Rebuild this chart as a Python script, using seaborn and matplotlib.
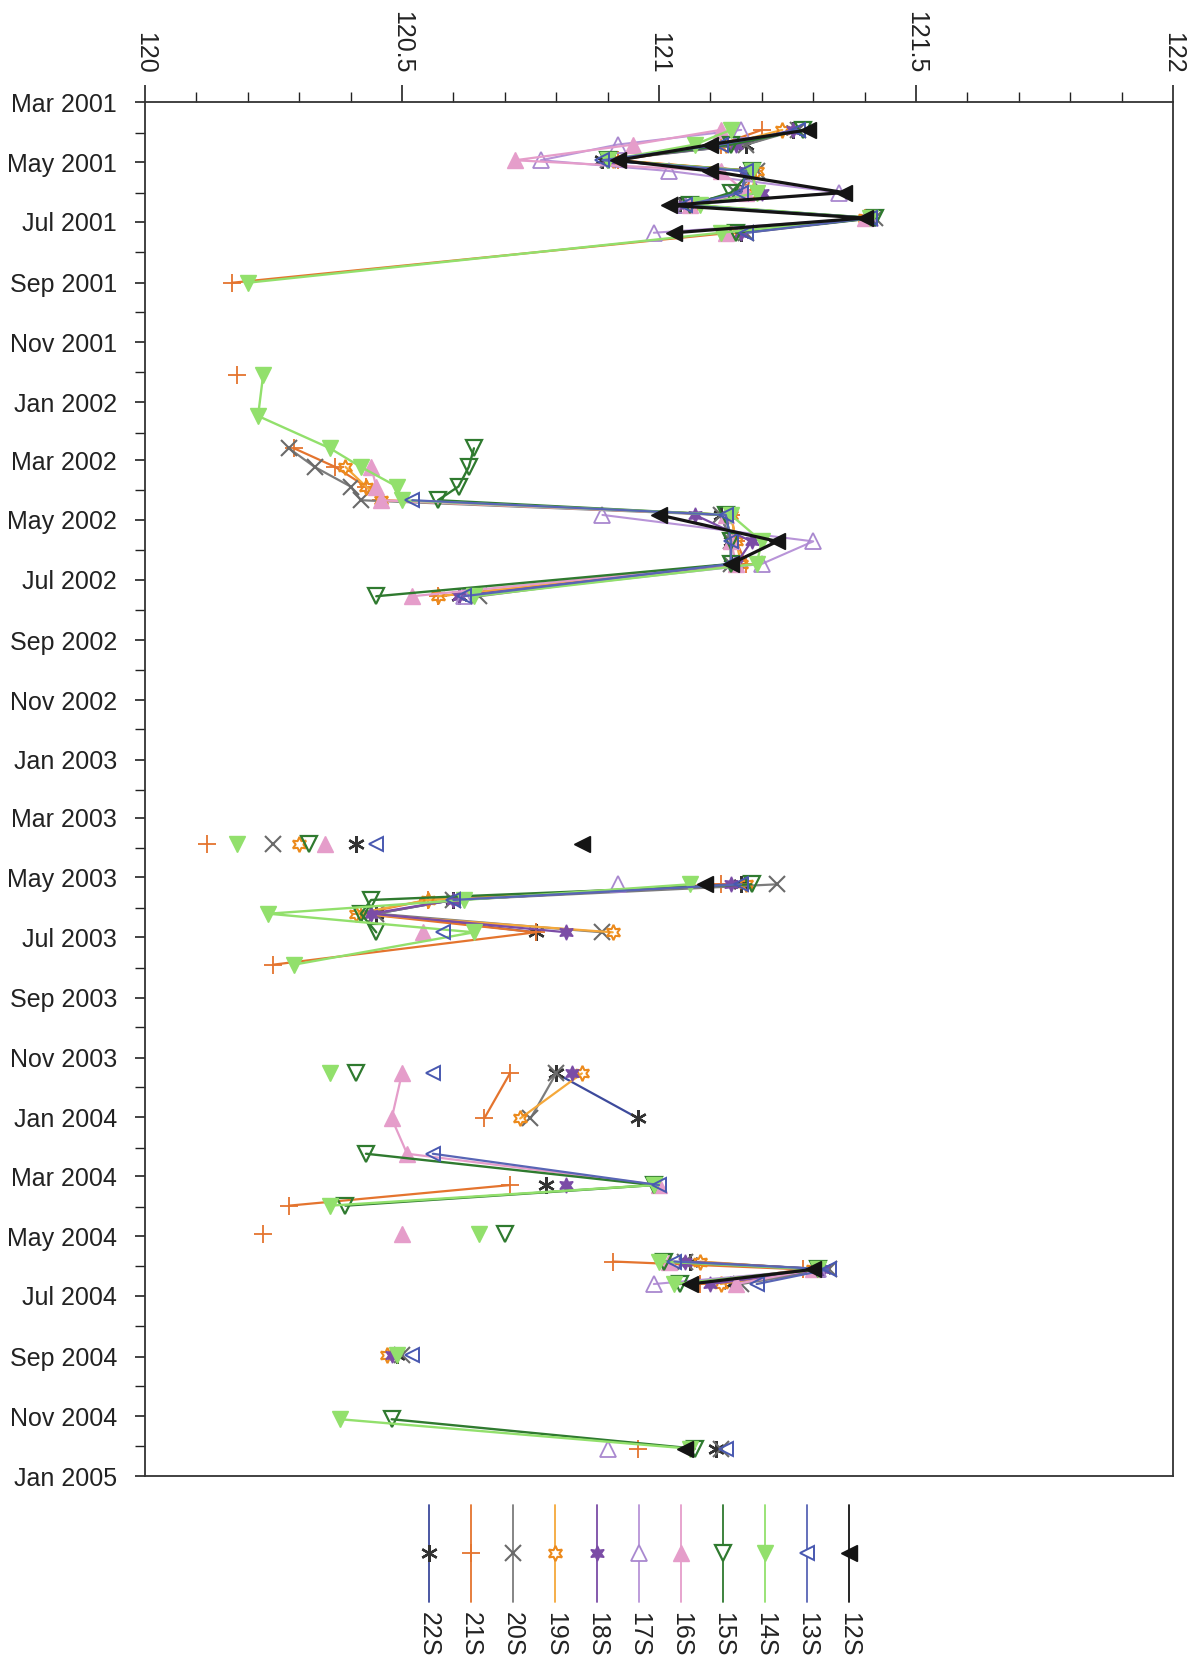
import numpy as np
import pandas as pd
import matplotlib
matplotlib.use("Agg")
import matplotlib.pyplot as plt
import matplotlib.dates as mdates
from matplotlib.ticker import MultipleLocator, FixedLocator
import seaborn as sns

n = np.nan

# observation dates (gap rows are dates with no readings -> line breaks)
dates = [
    "2001-03-29", "2001-04-13", "2001-04-29", "2001-05-10", "2001-06-01",
    "2001-06-14", "2001-06-27", "2001-07-12", "2001-09-01", "2001-10-15",
    "2001-12-04", "2002-01-15", "2002-02-17", "2002-03-08", "2002-03-28",
    "2002-04-11", "2002-04-26", "2002-05-23", "2002-06-15", "2002-07-18",
    "2002-10-15",
    "2003-03-28", "2003-04-18", "2003-05-08", "2003-05-24", "2003-06-07",
    "2003-06-26", "2003-07-29", "2003-09-30",
    "2003-11-17", "2004-01-02", "2004-02-07", "2004-03-10", "2004-03-31",
    "2004-04-15", "2004-04-29", "2004-05-13", "2004-05-27", "2004-06-04",
    "2004-06-19", "2004-07-25", "2004-08-30", "2004-10-01", "2004-11-04",
    "2004-12-04",
]

s12 = [121.29, 121.10, 120.92, 121.10, 121.36, 121.02, 121.40, 121.03, n, n,
       n, n, n, n, n, n, 121.00, 121.23, 121.14, n, n,
       120.85, n, 121.09, n, n, n, n, n,
       n, n, n, n, n, n, n, n, n, 121.30, 121.06, n, n, n, n, 121.05]
s13 = [121.27, 121.12, 120.89, 121.17, 121.16, 121.05, 121.41, 121.17, n, n,
       n, n, n, n, n, 120.52, 121.13, 121.14, 121.14, 120.62, n,
       120.45, n, 121.16, 120.60, n, 120.58, n, n,
       120.56, n, 120.56, 121.00, n, n, n, n, 121.03, 121.33, 121.19, n, 120.52, n, n, 121.13]
s14 = [121.14, 121.07, 120.90, 121.18, 121.19, 121.08, 121.41, 121.12, 120.20, n,
       120.23, 120.22, 120.36, 120.42, 120.49, 120.50, 121.14, 121.20, 121.19, 120.64, n,
       120.18, n, 121.06, 120.62, 120.24, 120.64, 120.29, n,
       120.36, n, n, 120.99, 120.36, n, 120.65, n, 121.00, 121.31, 121.03, n, 120.49, n, 120.38, 121.06]
s15 = [121.28, 121.14, 120.90, 121.18, 121.14, 121.06, 121.42, 121.15, n, n,
       n, n, 120.64, 120.63, 120.61, 120.57, 121.13, 121.14, 121.14, 120.45, n,
       120.32, n, 121.18, 120.44, 120.42, 120.45, n, n,
       120.41, n, 120.43, 120.99, 120.39, n, 120.70, n, 121.01, 121.31, 121.04, n, n, n, 120.48, 121.07]
s16 = [121.12, 120.95, 120.72, 121.12, 121.17, 121.06, 121.40, 121.13, n, n,
       n, n, n, 120.44, 120.45, 120.46, 121.13, 121.14, 121.15, 120.52, n,
       120.35, n, n, n, n, 120.54, n, n,
       120.50, 120.48, 120.51, 121.00, n, n, 120.50, n, 121.02, 121.30, 121.15, n, n, n, n, n]
s17 = [121.16, 120.92, 120.77, 121.02, 121.35, 121.05, 121.41, 120.99, n, n,
       n, n, n, n, n, n, 120.89, 121.30, 121.20, 120.62, n,
       n, n, 120.92, n, n, n, n, n,
       n, n, n, n, n, n, n, n, n, 121.31, 120.99, n, n, n, n, 120.90]
s18 = [121.26, 121.15, 120.90, 121.17, 121.20, 121.05, 121.41, 121.16, n, n,
       n, n, n, n, n, n, 121.07, 121.18, 121.15, 120.61, n,
       n, n, 121.14, 120.60, 120.44, 120.82, n, n,
       120.83, n, n, 120.82, n, n, n, n, 121.05, 121.32, 121.10, n, 120.48, n, n, n]
s19 = [121.24, 121.13, 120.91, 121.19, 121.18, 121.07, 121.40, 121.14, n, n,
       n, n, n, 120.39, 120.43, 120.46, 121.14, 121.15, 121.16, 120.57, n,
       120.30, n, 121.17, 120.55, 120.41, 120.91, n, n,
       120.85, 120.73, n, n, n, n, n, n, 121.08, 121.30, 121.12, n, 120.47, n, n, n]
s20 = [121.27, 121.17, 120.90, 121.19, 121.15, 121.05, 121.42, 121.17, n, n,
       n, n, 120.28, 120.33, 120.40, 120.42, 121.12, 121.14, 121.14, 120.65, n,
       120.25, n, 121.23, 120.60, 120.45, 120.89, n, n,
       120.80, 120.75, n, n, n, n, n, n, 121.05, 121.33, 121.16, n, 120.50, n, n, 121.12]
s21 = [121.20, 121.12, 120.92, 121.18, 121.17, 121.07, 121.40, 121.14, 120.17, n,
       120.18, n, 120.29, 120.37, 120.43, 120.46, 121.14, 121.15, 121.17, 120.57, n,
       120.12, n, 121.12, 120.55, 120.42, 120.76, 120.25, n,
       120.71, 120.66, n, 120.71, 120.28, n, 120.23, n, 120.91, 121.28, 121.08, n, n, n, n, 120.96]
s22 = [121.26, 121.17, 120.89, 121.17, 121.16, 121.04, 121.41, 121.16, n, n,
       n, n, n, n, n, n, 121.12, 121.14, 121.14, 120.61, n,
       120.41, n, 121.16, 120.60, 120.45, 120.76, n, n,
       120.80, 120.96, n, 120.78, n, n, n, n, 121.06, 121.32, 121.14, n, 120.49, n, n, 121.11]

series_names = ["22S", "21S", "20S", "19S", "18S", "17S", "16S", "15S", "14S", "13S", "12S"]
series_values = {"12S": s12, "13S": s13, "14S": s14, "15S": s15, "16S": s16, "17S": s17,
                 "18S": s18, "19S": s19, "20S": s20, "21S": s21, "22S": s22}

x_ticks = [120, 120.5, 121, 121.5, 122]
x_labels = ["120", "120.5", "121", "121.5", "122"]

# style: line colour, marker, face, edge, size, edge width, line width
styles = {
    "12S": ("#141414", "<", "#141414", "#141414", 11, 1.0, 2.3),
    "13S": ("#5865b5", "<", "none", "#4858b0", 10, 1.4, 1.6),
    "14S": ("#92e06c", "v", "#92e06c", "#92e06c", 11, 1.0, 1.7),
    "15S": ("#2f7a2f", "v", "none", "#2f7a2f", 11, 1.6, 1.7),
    "16S": ("#e59dca", "^", "#e59dca", "#e59dca", 11, 1.0, 1.6),
    "17S": ("#b894d8", "^", "none", "#a988cf", 11, 1.3, 1.5),
    "18S": ("#7b4ca6", (6, 1, 0), "#7b4ca6", "#7b4ca6", 11, 1.0, 1.6),
    "19S": ("#f5a83a", (6, 1, 0), "none", "#ec8a1c", 11, 1.5, 1.6),
    "20S": ("#7c7c7c", "x", "#6a6a6a", "#6a6a6a", 11, 1.5, 1.6),
    "21S": ("#e4742e", "+", "#e4742e", "#e4742e", 13, 1.3, 1.6),
    "22S": ("#3d4a9c", (6, 2, 0), "#333333", "#333333", 12, 1.7, 1.6),
}

sns.set_theme(style="ticks")
plt.rcParams["font.family"] = ["Liberation Sans", "DejaVu Sans"]

fig = plt.figure(figsize=(12, 16.63), dpi=100)
ax = fig.add_axes([0.1208, 0.1124, 0.8567, 0.8260])

dt = pd.to_datetime(dates)
for name in series_names:
    lc, mk, mfc, mec, ms, mew, lw = styles[name]
    vals = np.array(series_values[name], dtype=float)
    seg = np.cumsum(np.isnan(vals))
    df = pd.DataFrame({"date": dt, "val": vals, "seg": seg}).dropna()
    for _, g in df.groupby("seg"):
        sns.lineplot(data=g, x="val", y="date", sort=False, estimator=None,
                     orient="y", ax=ax, legend=False, color=lc, linewidth=lw,
                     marker=mk, markersize=ms, markerfacecolor=mfc,
                     markeredgecolor=mec, markeredgewidth=mew)

ax.set_xlim(120, 122)
ax.set_ylim(pd.Timestamp("2005-01-01"), pd.Timestamp("2001-03-01"))
ax.set_xlabel("")
ax.set_ylabel("")

ax.xaxis.tick_top()
ax.xaxis.set_major_locator(FixedLocator(x_ticks))
ax.set_xticklabels(x_labels, rotation=-90, va="bottom", ha="center")
ax.xaxis.set_minor_locator(MultipleLocator(0.1))
ax.tick_params(axis="x", which="major", direction="out", length=12, width=1.2,
               pad=9, labelsize=18, colors="#222222", top=True, bottom=False,
               labeltop=True, labelbottom=False)
ax.tick_params(axis="x", which="minor", direction="out", length=7, width=1.0,
               top=True, bottom=False, colors="#222222")

ax.yaxis.set_major_locator(mdates.MonthLocator(bymonth=[1, 3, 5, 7, 9, 11]))
ax.yaxis.set_major_formatter(mdates.DateFormatter("%b %Y"))
ax.yaxis.set_minor_locator(mdates.MonthLocator())
ax.tick_params(axis="y", which="major", direction="out", length=7, width=1.2,
               pad=13, labelsize=18, colors="#222222")
ax.tick_params(axis="y", which="minor", direction="out", length=7, width=1.0,
               colors="#222222")

for sp in ax.spines.values():
    sp.set_visible(True)
    sp.set_color("#333333")
    sp.set_linewidth(1.3)

# legend (rotated layout): vertical handle, label below
lax = fig.add_axes([400 / 1200, 0.0, 480 / 1200, 163 / 1663])
lax.set_xlim(-0.690, 10.738)
lax.set_ylim(0, 163)
lax.axis("off")
for i, name in enumerate(series_names):
    lc, mk, mfc, mec, ms, mew, lw = styles[name]
    lax.plot([i, i], [61, 158], color=lc, linewidth=1.3)
    lax.plot([i], [110], linestyle="none", marker=mk, markersize=ms,
             markerfacecolor=("white" if mfc == "none" else mfc),
             markeredgecolor=mec, markeredgewidth=mew)
    lax.text(i, 51, name, rotation=-90, ha="center", va="top", fontsize=18,
             color="#222222")

fig.savefig("out.png", dpi=100, facecolor="white")
